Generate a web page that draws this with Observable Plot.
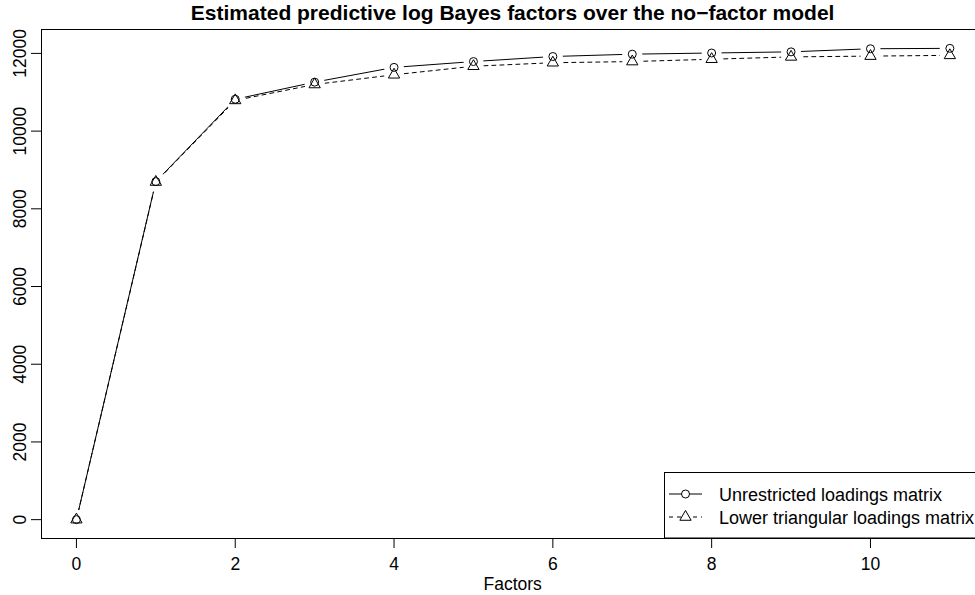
<!DOCTYPE html>
<html>
<head>
<meta charset="utf-8">
<script src="https://cdn.jsdelivr.net/npm/d3@7"></script>
<script src="https://cdn.jsdelivr.net/npm/@observablehq/plot@0.6"></script>
<style>
  html, body { margin: 0; padding: 0; background: white; overflow: hidden; }
  #wrap { width: 975px; height: 595px; overflow: hidden; }
</style>
</head>
<body>
<div id="wrap"></div>
<script>
const titleText = "Estimated predictive log Bayes factors over the no\u2212factor model";
const xLabel = "Factors";
const factors = [0, 1, 2, 3, 4, 5, 6, 7, 8, 9, 10, 11];
const unrestricted = [0, 8700, 10820, 11260, 11640, 11790, 11920, 11980, 12010, 12040, 12120, 12130];
const lowerTriangular = [0, 8690, 10790, 11200, 11450, 11670, 11760, 11790, 11850, 11910, 11930, 11950];
const seriesNames = ["Unrestricted loadings matrix", "Lower triangular loadings matrix"];
const xTicks = [0, 2, 4, 6, 8, 10];
const yTicks = [0, 2000, 4000, 6000, 8000, 10000, 12000];

const rowsU = factors.map((f, i) => ({factor: f, value: unrestricted[i], series: seriesNames[0]}));
const rowsL = factors.map((f, i) => ({factor: f, value: lowerTriangular[i], series: seriesNames[1]}));
const allRows = rowsU.concat(rowsL);

// R-style 4% axis extension
const xmin = d3.min(factors), xmax = d3.max(factors);
const xext = (xmax - xmin) * 0.04;
const ymin = d3.min(allRows, d => d.value), ymax = d3.max(allRows, d => d.value);
const yext = (ymax - ymin) * 0.04;

const font = "'Liberation Sans', Arial, Helvetica, sans-serif";
const W = 975, H = 595, mL = 41, mT = 29, mB = 57;
const mR = -9.3;

const chart = Plot.plot({
  width: W,
  height: H,
  marginLeft: mL,
  marginRight: mR,
  marginTop: mT,
  marginBottom: mB,
  style: {fontFamily: font, fontSize: "17.5px", background: "white", color: "black"},
  x: {domain: [xmin - xext, xmax + xext], label: null},
  y: {domain: [ymin - yext, ymax + yext], label: null},
  marks: [
    Plot.line(rowsU, {x: "factor", y: "value", stroke: "black", strokeWidth: 1}),
    Plot.line(rowsL, {x: "factor", y: "value", stroke: "black", strokeWidth: 1, strokeDasharray: "4,4"}),
    Plot.dot(allRows, {x: "factor", y: "value", r: 10, fill: "white", stroke: null}),
    Plot.dot(rowsU, {x: "factor", y: "value", r: 4, symbol: "circle", fill: "none", stroke: "black", strokeWidth: 1}),
    Plot.dot(rowsL, {x: "factor", y: "value", r: 4.2, symbol: "triangle", fill: "none", stroke: "black", strokeWidth: 1}),
    Plot.frame({stroke: "black", strokeWidth: 1}),
    Plot.axisX(xTicks, {tickSize: 10, tickPadding: 9, fontSize: 17.5, label: null}),
    Plot.axisY(yTicks, {tickSize: 10, tickFormat: () => "", label: null}),
    Plot.text(yTicks, {y: d => d, text: d => String(d), frameAnchor: "left", rotate: -90, textAnchor: "middle", dx: -21.6, fontSize: 17.5, fill: "black"})
  ]
});

const svg = d3.select(chart);
svg.attr("font-family", font);
const plotCenter = (mL + (W - mR)) / 2;
svg.append("text")
  .attr("x", plotCenter).attr("y", 20)
  .attr("text-anchor", "middle")
  .attr("font-weight", "bold").attr("font-size", 21)
  .attr("fill", "black")
  .text(titleText);
svg.append("text")
  .attr("x", plotCenter).attr("y", 590)
  .attr("text-anchor", "middle")
  .attr("font-size", 17.5)
  .attr("fill", "black")
  .text(xLabel);

// legend (bottom-right, inside plot region)
const lg = svg.append("g").attr("text-anchor", "start");
lg.append("rect")
  .attr("x", 664.5).attr("y", 472.5).attr("width", 340).attr("height", 65.5)
  .attr("fill", "white").attr("stroke", "black");
const legendY = [494, 517];
const dashes = [null, "4,4"];
seriesNames.forEach((name, i) => {
  const yy = legendY[i];
  lg.append("line")
    .attr("x1", 669).attr("x2", 702).attr("y1", yy).attr("y2", yy)
    .attr("stroke", "black").attr("stroke-dasharray", dashes[i]);
  if (i === 0) {
    lg.append("circle").attr("cx", 685.5).attr("cy", yy).attr("r", 4)
      .attr("fill", "white").attr("stroke", "black");
  } else {
    lg.append("path").attr("transform", `translate(685.5,${yy})`)
      .attr("d", d3.symbol(d3.symbolTriangle, Math.PI * 4.2 * 4.2)())
      .attr("fill", "white").attr("stroke", "black");
  }
  lg.append("text")
    .attr("x", 719).attr("y", yy + 6.5)
    .attr("text-anchor", "start")
    .attr("font-size", 18).attr("fill", "black")
    .text(name);
});

document.getElementById("wrap").appendChild(chart);
</script>
</body>
</html>
